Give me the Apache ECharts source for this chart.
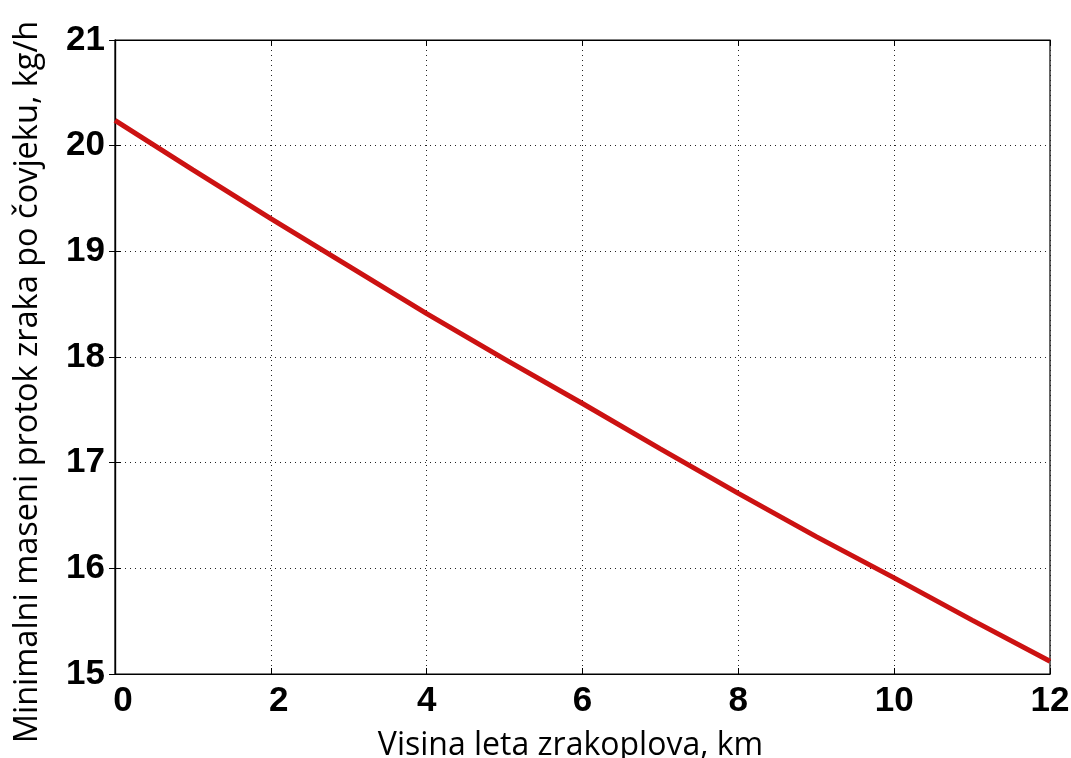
<!DOCTYPE html>
<html>
<head>
<meta charset="utf-8">
<script src="https://cdn.jsdelivr.net/npm/echarts@6/dist/echarts.min.js"></script>
<style>html,body{margin:0;padding:0;background:#fff;}#c{width:1071px;height:758px;}</style>
</head>
<body>
<div id="c"></div>
<script>
const altitudeKm = [0, 1, 2, 3, 4, 5, 6, 7, 8, 9, 10, 11, 12];
const massFlow = [20.24, 19.77, 19.31, 18.86, 18.41, 17.98, 17.56, 17.13, 16.71, 16.30, 15.91, 15.51, 15.12];
const xTitle = 'Visina leta zrakoplova, km';
const yTitle = 'Minimalni maseni protok zraka po čovjeku, kg/h';

const chart = echarts.init(document.getElementById('c'), null, {renderer: 'canvas'});
const tickFont = {fontFamily: 'Liberation Sans', fontWeight: 'bold', fontSize: 35, color: '#000'};
const gridLine = {show: true, lineStyle: {color: '#222', type: [1, 4], width: 1}};
const axisLine = {show: true, lineStyle: {color: '#000', width: 1.2}};
chart.setOption({
  animation: false,
  backgroundColor: '#fff',
  grid: {left: 115, right: 21, top: 40, bottom: 84, containLabel: false, outerBoundsMode: 'none',
         show: true, borderColor: '#000', borderWidth: 1.2},
  xAxis: [{
    type: 'value', min: 0, max: 12, interval: 2,
    name: xTitle, nameLocation: 'middle', nameGap: 56,
    nameTextStyle: {fontFamily: 'Open Sans', fontSize: 32, color: '#000', padding: [0, 24, 0, 0]},
    axisLine: axisLine,
    axisTick: {show: true, inside: true, length: 6, lineStyle: {color: '#000'}},
    axisLabel: Object.assign({
      margin: 10,
      formatter: v => (v <= 2 ? '{s|' + v + '}' : '{n|' + v + '}'),
      rich: {
        s: Object.assign({padding: [0, 0, 0, 16]}, tickFont),
        n: Object.assign({}, tickFont)
      }
    }, tickFont),
    splitLine: gridLine
  }, {
    type: 'value', min: 0, max: 12, interval: 2, position: 'top',
    axisLine: axisLine,
    axisTick: {show: true, inside: true, length: 6, lineStyle: {color: '#000'}},
    axisLabel: {show: false}, splitLine: {show: false}
  }],
  yAxis: [{
    type: 'value', min: 15, max: 21, interval: 1,
    name: yTitle, nameLocation: 'middle', nameGap: 71, nameRotate: 90,
    nameTextStyle: {fontFamily: 'Open Sans', fontSize: 32.5, color: '#000', padding: [0, 50, 0, 0]},
    axisLine: axisLine,
    axisTick: {show: true, inside: true, length: 6, lineStyle: {color: '#000'}},
    axisLabel: Object.assign({margin: 10}, tickFont),
    splitLine: gridLine
  }, {
    type: 'value', min: 15, max: 21, interval: 1, position: 'right',
    axisLine: axisLine,
    axisTick: {show: true, inside: true, length: 6, lineStyle: {color: '#000'}},
    axisLabel: {show: false}, splitLine: {show: false}
  }],
  series: [{
    type: 'line',
    data: altitudeKm.map((x, i) => [x, massFlow[i]]),
    smooth: false,
    symbol: 'none',
    lineStyle: {color: '#cc1212', width: 5},
    clip: true
  }]
});
</script>
</body>
</html>
